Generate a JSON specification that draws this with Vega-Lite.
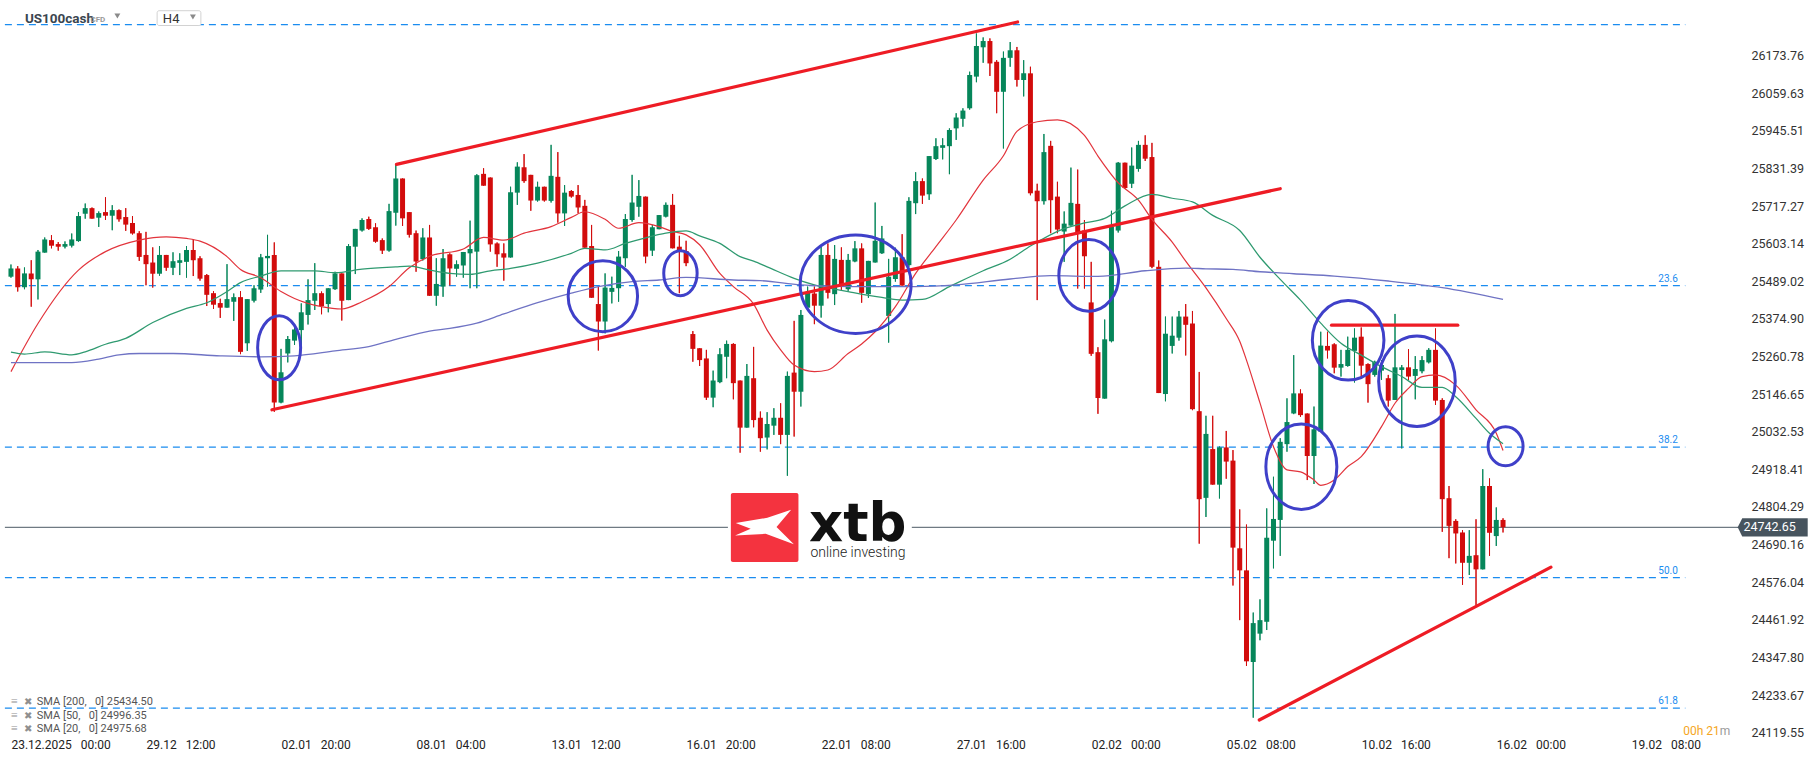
{
"$schema":"https://vega.github.io/schema/vega-lite/v6.json",
"width":1745,"height":735,"autosize":{"type":"none"},
"padding":{"left":0,"top":0,"right":70,"bottom":26},
"background":"white",
"config":{"view":{"stroke":null},"font":"Roboto"},
"resolve":{"axis":{"x":"independent","y":"independent"}},
"datasets":{
"candles":[
{"i":0,"o":25503,"h":25540,"l":25500,"c":25528},{"i":1,"o":25528,"h":25535,"l":25458,"c":25471},{"i":2,"o":25471,"h":25531,"l":25465,"c":25513},{"i":3,"o":25513,"h":25553,"l":25412,"c":25495},{"i":4,"o":25495,"h":25584,"l":25434,"c":25579},{"i":5,"o":25576,"h":25622,"l":25576,"c":25616},{"i":6,"o":25614,"h":25629,"l":25589,"c":25597},{"i":7,"o":25602,"h":25608,"l":25582,"c":25594},{"i":8,"o":25594,"h":25610,"l":25589,"c":25602},{"i":9,"o":25597,"h":25634,"l":25592,"c":25616},
{"i":10,"o":25611,"h":25699,"l":25609,"c":25687},{"i":11,"o":25694,"h":25725,"l":25679,"c":25711},{"i":12,"o":25711,"h":25713,"l":25679,"c":25679},{"i":13,"o":25682,"h":25701,"l":25654,"c":25696},{"i":14,"o":25699,"h":25744,"l":25675,"c":25688},{"i":15,"o":25688,"h":25720,"l":25644,"c":25705},{"i":16,"o":25705,"h":25707,"l":25670,"c":25677},{"i":17,"o":25684,"h":25711,"l":25642,"c":25661},{"i":18,"o":25666,"h":25687,"l":25631,"c":25634},{"i":19,"o":25635,"h":25641,"l":25551,"c":25563},
{"i":20,"o":25569,"h":25639,"l":25477,"c":25541},{"i":21,"o":25546,"h":25592,"l":25470,"c":25512},{"i":22,"o":25512,"h":25596,"l":25506,"c":25569},{"i":23,"o":25569,"h":25569,"l":25521,"c":25530},{"i":24,"o":25530,"h":25577,"l":25508,"c":25550},{"i":25,"o":25545,"h":25574,"l":25508,"c":25553},{"i":26,"o":25548,"h":25596,"l":25500,"c":25584},{"i":27,"o":25584,"h":25616,"l":25505,"c":25553},{"i":28,"o":25559,"h":25565,"l":25491,"c":25497},{"i":29,"o":25508,"h":25511,"l":25414,"c":25448},
{"i":30,"o":25453,"h":25459,"l":25405,"c":25418},{"i":31,"o":25423,"h":25436,"l":25378,"c":25409},{"i":32,"o":25409,"h":25541,"l":25409,"c":25435},{"i":33,"o":25427,"h":25452,"l":25369,"c":25441},{"i":34,"o":25441,"h":25459,"l":25268,"c":25275},{"i":35,"o":25301,"h":25435,"l":25278,"c":25435},{"i":36,"o":25430,"h":25477,"l":25425,"c":25468},{"i":37,"o":25464,"h":25572,"l":25454,"c":25562},{"i":38,"o":25559,"h":25630,"l":25473,"c":25566},{"i":39,"o":25569,"h":25607,"l":25093,"c":25121},
{"i":40,"o":25121,"h":25284,"l":25119,"c":25213},{"i":41,"o":25270,"h":25323,"l":25243,"c":25314},{"i":42,"o":25309,"h":25357,"l":25296,"c":25343},{"i":43,"o":25341,"h":25422,"l":25295,"c":25395},{"i":44,"o":25387,"h":25495,"l":25358,"c":25432},{"i":45,"o":25430,"h":25544,"l":25402,"c":25453},{"i":46,"o":25453,"h":25458,"l":25389,"c":25414},{"i":47,"o":25420,"h":25468,"l":25395,"c":25468},{"i":48,"o":25465,"h":25518,"l":25463,"c":25513},{"i":49,"o":25513,"h":25513,"l":25370,"c":25430},
{"i":50,"o":25432,"h":25602,"l":25432,"c":25596},{"i":51,"o":25594,"h":25648,"l":25511,"c":25648},{"i":52,"o":25643,"h":25680,"l":25640,"c":25675},{"i":53,"o":25678,"h":25685,"l":25645,"c":25648},{"i":54,"o":25653,"h":25665,"l":25606,"c":25609},{"i":55,"o":25614,"h":25619,"l":25572,"c":25582},{"i":56,"o":25582,"h":25724,"l":25579,"c":25702},{"i":57,"o":25697,"h":25844,"l":25658,"c":25801},{"i":58,"o":25801,"h":25801,"l":25657,"c":25680},{"i":59,"o":25699,"h":25699,"l":25622,"c":25630},
{"i":60,"o":25635,"h":25643,"l":25518,"c":25549},{"i":61,"o":25556,"h":25650,"l":25552,"c":25622},{"i":62,"o":25622,"h":25660,"l":25445,"c":25445},{"i":63,"o":25445,"h":25559,"l":25415,"c":25481},{"i":64,"o":25473,"h":25587,"l":25442,"c":25559},{"i":65,"o":25571,"h":25574,"l":25476,"c":25528},{"i":66,"o":25527,"h":25552,"l":25503,"c":25541},{"i":67,"o":25537,"h":25578,"l":25500,"c":25578},{"i":68,"o":25574,"h":25673,"l":25468,"c":25587},{"i":69,"o":25579,"h":25814,"l":25468,"c":25811},
{"i":70,"o":25815,"h":25832,"l":25779,"c":25779},{"i":71,"o":25804,"h":25804,"l":25579,"c":25601},{"i":72,"o":25604,"h":25607,"l":25533,"c":25571},{"i":73,"o":25574,"h":25604,"l":25491,"c":25561},{"i":74,"o":25561,"h":25776,"l":25561,"c":25759},{"i":75,"o":25758,"h":25850,"l":25721,"c":25837},{"i":76,"o":25835,"h":25875,"l":25788,"c":25793},{"i":77,"o":25812,"h":25812,"l":25703,"c":25734},{"i":78,"o":25734,"h":25791,"l":25731,"c":25776},{"i":79,"o":25776,"h":25776,"l":25731,"c":25734},
{"i":80,"o":25733,"h":25903,"l":25728,"c":25809},{"i":81,"o":25806,"h":25881,"l":25667,"c":25695},{"i":82,"o":25695,"h":25781,"l":25657,"c":25758},{"i":83,"o":25763,"h":25766,"l":25743,"c":25746},{"i":84,"o":25751,"h":25781,"l":25695,"c":25713},{"i":85,"o":25718,"h":25736,"l":25591,"c":25591},{"i":86,"o":25596,"h":25660,"l":25439,"c":25439},{"i":87,"o":25420,"h":25473,"l":25279,"c":25367},{"i":88,"o":25367,"h":25513,"l":25331,"c":25470},{"i":89,"o":25457,"h":25503,"l":25422,"c":25469},
{"i":90,"o":25468,"h":25581,"l":25427,"c":25564},{"i":91,"o":25559,"h":25693,"l":25533,"c":25678},{"i":92,"o":25675,"h":25812,"l":25670,"c":25728},{"i":93,"o":25715,"h":25796,"l":25685,"c":25748},{"i":94,"o":25746,"h":25746,"l":25544,"c":25564},{"i":95,"o":25582,"h":25660,"l":25566,"c":25653},{"i":96,"o":25647,"h":25690,"l":25647,"c":25690},{"i":97,"o":25685,"h":25728,"l":25683,"c":25721},{"i":98,"o":25721,"h":25754,"l":25589,"c":25589},{"i":99,"o":25594,"h":25627,"l":25453,"c":25582},
{"i":100,"o":25581,"h":25612,"l":25535,"c":25544},{"i":101,"o":25329,"h":25338,"l":25245,"c":25284},{"i":102,"o":25286,"h":25286,"l":25232,"c":25250},{"i":103,"o":25255,"h":25281,"l":25129,"c":25136},{"i":104,"o":25136,"h":25218,"l":25107,"c":25188},{"i":105,"o":25183,"h":25286,"l":25180,"c":25268},{"i":106,"o":25260,"h":25309,"l":25195,"c":25299},{"i":107,"o":25299,"h":25301,"l":25131,"c":25180},{"i":108,"o":25188,"h":25188,"l":24969,"c":25045},{"i":109,"o":25045,"h":25238,"l":25045,"c":25202},
{"i":110,"o":25195,"h":25290,"l":25046,"c":25068},{"i":111,"o":25075,"h":25094,"l":24972,"c":25013},{"i":112,"o":25015,"h":25092,"l":24979,"c":25056},{"i":113,"o":25051,"h":25104,"l":25023,"c":25075},{"i":114,"o":25075,"h":25119,"l":24995,"c":25023},{"i":115,"o":25023,"h":25215,"l":24899,"c":25202},{"i":116,"o":25212,"h":25369,"l":25018,"c":25154},{"i":117,"o":25154,"h":25402,"l":25109,"c":25387},{"i":118,"o":25409,"h":25473,"l":25409,"c":25455},{"i":119,"o":25452,"h":25473,"l":25359,"c":25415},
{"i":120,"o":25415,"h":25594,"l":25379,"c":25569},{"i":121,"o":25569,"h":25604,"l":25437,"c":25454},{"i":122,"o":25450,"h":25599,"l":25417,"c":25557},{"i":123,"o":25554,"h":25592,"l":25463,"c":25478},{"i":124,"o":25465,"h":25572,"l":25460,"c":25554},{"i":125,"o":25549,"h":25611,"l":25547,"c":25589},{"i":126,"o":25589,"h":25604,"l":25424,"c":25454},{"i":127,"o":25450,"h":25551,"l":25439,"c":25551},{"i":128,"o":25546,"h":25728,"l":25546,"c":25612},{"i":129,"o":25574,"h":25657,"l":25572,"c":25619},
{"i":130,"o":25384,"h":25557,"l":25303,"c":25503},{"i":131,"o":25496,"h":25591,"l":25488,"c":25562},{"i":132,"o":25562,"h":25632,"l":25476,"c":25476},{"i":133,"o":25538,"h":25744,"l":25533,"c":25733},{"i":134,"o":25726,"h":25820,"l":25693,"c":25793},{"i":135,"o":25793,"h":25801,"l":25724,"c":25749},{"i":136,"o":25753,"h":25869,"l":25736,"c":25869},{"i":137,"o":25860,"h":25923,"l":25857,"c":25899},{"i":138,"o":25894,"h":25923,"l":25859,"c":25902},{"i":139,"o":25899,"h":25953,"l":25814,"c":25948},
{"i":140,"o":25953,"h":25999,"l":25918,"c":25986},{"i":141,"o":25982,"h":26014,"l":25958,"c":26007},{"i":142,"o":26014,"h":26125,"l":26010,"c":26115},{"i":143,"o":26110,"h":26241,"l":26093,"c":26203},{"i":144,"o":26199,"h":26229,"l":26152,"c":26218},{"i":145,"o":26218,"h":26226,"l":26112,"c":26150},{"i":146,"o":26155,"h":26160,"l":25999,"c":26064},{"i":147,"o":26064,"h":26186,"l":25892,"c":26167},{"i":148,"o":26167,"h":26215,"l":26140,"c":26190},{"i":149,"o":26190,"h":26200,"l":26080,"c":26100},
{"i":150,"o":26100,"h":26160,"l":26050,"c":26120},{"i":151,"o":26120,"h":26140,"l":25750,"c":25756},{"i":152,"o":25764,"h":25785,"l":25432,"c":25732},{"i":153,"o":25732,"h":25936,"l":25722,"c":25881},{"i":154,"o":25900,"h":25915,"l":25635,"c":25735},{"i":155,"o":25746,"h":25791,"l":25635,"c":25646},{"i":156,"o":25640,"h":25701,"l":25548,"c":25664},{"i":157,"o":25658,"h":25834,"l":25658,"c":25727},{"i":158,"o":25724,"h":25828,"l":25467,"c":25635},{"i":159,"o":25643,"h":25675,"l":25467,"c":25565},
{"i":160,"o":25425,"h":25548,"l":25263,"c":25269},{"i":161,"o":25274,"h":25289,"l":25087,"c":25135},{"i":162,"o":25133,"h":25373,"l":25133,"c":25313},{"i":163,"o":25307,"h":25703,"l":25304,"c":25654},{"i":164,"o":25643,"h":25851,"l":25637,"c":25849},{"i":165,"o":25849,"h":25849,"l":25770,"c":25772},{"i":166,"o":25785,"h":25895,"l":25772,"c":25840},{"i":167,"o":25830,"h":25915,"l":25822,"c":25903},{"i":168,"o":25903,"h":25932,"l":25854,"c":25861},{"i":169,"o":25866,"h":25909,"l":25529,"c":25533},
{"i":170,"o":25533,"h":25552,"l":25150,"c":25150},{"i":171,"o":25147,"h":25382,"l":25125,"c":25330},{"i":172,"o":25293,"h":25382,"l":25270,"c":25324},{"i":173,"o":25318,"h":25399,"l":25309,"c":25382},{"i":174,"o":25382,"h":25420,"l":25264,"c":25357},{"i":175,"o":25361,"h":25399,"l":25098,"c":25101},{"i":176,"o":25095,"h":25214,"l":24693,"c":24828},{"i":177,"o":24832,"h":25081,"l":24774,"c":25026},{"i":178,"o":24980,"h":25081,"l":24872,"c":24872},{"i":179,"o":24872,"h":24988,"l":24830,"c":24985},
{"i":180,"o":24985,"h":25035,"l":24890,"c":24942},{"i":181,"o":24945,"h":24977,"l":24566,"c":24681},{"i":182,"o":24679,"h":24797,"l":24461,"c":24612},{"i":183,"o":24612,"h":24751,"l":24322,"c":24336},{"i":184,"o":24334,"h":24484,"l":24165,"c":24452},{"i":185,"o":24420,"h":24524,"l":24400,"c":24461},{"i":186,"o":24456,"h":24800,"l":24431,"c":24711},{"i":187,"o":24702,"h":24896,"l":24618,"c":24768},{"i":188,"o":24765,"h":25013,"l":24656,"c":25002},{"i":189,"o":24995,"h":25134,"l":24972,"c":25062},
{"i":190,"o":25088,"h":25265,"l":25086,"c":25149},{"i":191,"o":25149,"h":25161,"l":25078,"c":25083},{"i":192,"o":25088,"h":25088,"l":24886,"c":24959},{"i":193,"o":24959,"h":25109,"l":24874,"c":25040},{"i":194,"o":25033,"h":25336,"l":25033,"c":25294},{"i":195,"o":25293,"h":25336,"l":25255,"c":25279},{"i":196,"o":25298,"h":25301,"l":25210,"c":25227},{"i":197,"o":25227,"h":25281,"l":25200,"c":25238},{"i":198,"o":25232,"h":25321,"l":25230,"c":25281},{"i":199,"o":25278,"h":25346,"l":25182,"c":25318},
{"i":200,"o":25321,"h":25349,"l":25195,"c":25233},{"i":201,"o":25238,"h":25240,"l":25121,"c":25177},{"i":202,"o":25205,"h":25248,"l":25200,"c":25245},{"i":203,"o":25218,"h":25250,"l":25190,"c":25235},{"i":204,"o":25195,"h":25205,"l":25109,"c":25127},{"i":205,"o":25129,"h":25390,"l":25129,"c":25228},{"i":206,"o":25220,"h":25235,"l":24982,"c":25228},{"i":207,"o":25228,"h":25283,"l":25190,"c":25200},{"i":208,"o":25202,"h":25262,"l":25131,"c":25223},{"i":209,"o":25216,"h":25262,"l":25210,"c":25250},
{"i":210,"o":25243,"h":25286,"l":25240,"c":25281},{"i":211,"o":25281,"h":25346,"l":25114,"c":25127},{"i":212,"o":25129,"h":25134,"l":24729,"c":24828},{"i":213,"o":24831,"h":24868,"l":24649,"c":24747},{"i":214,"o":24762,"h":24767,"l":24633,"c":24724},{"i":215,"o":24727,"h":24734,"l":24568,"c":24635},{"i":216,"o":24635,"h":24734,"l":24598,"c":24656},{"i":217,"o":24658,"h":24767,"l":24507,"c":24615},{"i":218,"o":24615,"h":24919,"l":24615,"c":24868},{"i":219,"o":24868,"h":24891,"l":24656,"c":24726},
{"i":220,"o":24716,"h":24803,"l":24686,"c":24765},{"i":221,"o":24765,"h":24770,"l":24727,"c":24742.65}
],
"sma":[
{"s":"s20","i":0,"v":25215},{"s":"s20","i":4,"v":25361},{"s":"s20","i":10,"v":25523},{"s":"s20","i":14,"v":25579},{"s":"s20","i":19,"v":25614},{"s":"s20","i":23,"v":25624},{"s":"s20","i":26,"v":25619},{"s":"s20","i":28,"v":25611},{"s":"s20","i":32,"v":25564},{"s":"s20","i":34,"v":25525},{"s":"s20","i":37,"v":25500},{"s":"s20","i":40,"v":25458},{"s":"s20","i":42,"v":25437},{"s":"s20","i":46,"v":25412},{"s":"s20","i":49,"v":25405},{"s":"s20","i":52,"v":25427},{"s":"s20","i":56,"v":25473},{"s":"s20","i":59,"v":25530},{"s":"s20","i":62,"v":25565},{"s":"s20","i":67,"v":25587},{"s":"s20","i":70,"v":25622},{"s":"s20","i":73,"v":25614},{"s":"s20","i":76,"v":25635},{"s":"s20","i":80,"v":25655},{"s":"s20","i":83,"v":25683},{"s":"s20","i":85,"v":25700},{"s":"s20","i":88,"v":25677},{"s":"s20","i":90,"v":25650},{"s":"s20","i":93,"v":25667},{"s":"s20","i":96,"v":25655},{"s":"s20","i":98,"v":25640},{"s":"s20","i":100,"v":25630},{"s":"s20","i":102,"v":25600},{"s":"s20","i":105,"v":25513},{"s":"s20","i":107,"v":25473},{"s":"s20","i":110,"v":25420},{"s":"s20","i":112,"v":25341},{"s":"s20","i":114,"v":25281},{"s":"s20","i":116,"v":25235},{"s":"s20","i":119,"v":25215},{"s":"s20","i":121,"v":25220},{"s":"s20","i":124,"v":25270},{"s":"s20","i":126,"v":25299},{"s":"s20","i":128,"v":25336},{"s":"s20","i":131,"v":25412},{"s":"s20","i":134,"v":25513},{"s":"s20","i":137,"v":25594},{"s":"s20","i":140,"v":25675},{"s":"s20","i":144,"v":25796},{"s":"s20","i":147,"v":25870},{"s":"s20","i":149,"v":25944},{"s":"s20","i":152,"v":25973},{"s":"s20","i":155,"v":25979},{"s":"s20","i":159,"v":25932},{"s":"s20","i":161,"v":25869},{"s":"s20","i":164,"v":25788},{"s":"s20","i":167,"v":25735},{"s":"s20","i":169,"v":25677},{"s":"s20","i":172,"v":25608},{"s":"s20","i":174,"v":25550},{"s":"s20","i":177,"v":25469},{"s":"s20","i":180,"v":25376},{"s":"s20","i":182,"v":25307},{"s":"s20","i":183,"v":25250},{"s":"s20","i":185,"v":25120},{"s":"s20","i":187,"v":24987},{"s":"s20","i":189,"v":24917},{"s":"s20","i":191,"v":24911},{"s":"s20","i":193,"v":24886},{"s":"s20","i":194,"v":24870},{"s":"s20","i":196,"v":24886},{"s":"s20","i":198,"v":24927},{"s":"s20","i":200,"v":24957},{"s":"s20","i":203,"v":25048},{"s":"s20","i":205,"v":25119},{"s":"s20","i":207,"v":25164},{"s":"s20","i":209,"v":25200},{"s":"s20","i":211,"v":25205},{"s":"s20","i":214,"v":25174},{"s":"s20","i":217,"v":25099},{"s":"s20","i":220,"v":25028},{"s":"s20","i":221,"v":24975.68},
{"s":"s50","i":0,"v":25274},{"s":"s50","i":2,"v":25268},{"s":"s50","i":5,"v":25275},{"s":"s50","i":9,"v":25266},{"s":"s50","i":11,"v":25275},{"s":"s50","i":14,"v":25298},{"s":"s50","i":17,"v":25316},{"s":"s50","i":21,"v":25364},{"s":"s50","i":26,"v":25407},{"s":"s50","i":29,"v":25424},{"s":"s50","i":32,"v":25458},{"s":"s50","i":34,"v":25485},{"s":"s50","i":37,"v":25505},{"s":"s50","i":40,"v":25521},{"s":"s50","i":45,"v":25521},{"s":"s50","i":48,"v":25515},{"s":"s50","i":52,"v":25526},{"s":"s50","i":57,"v":25533},{"s":"s50","i":59,"v":25535},{"s":"s50","i":62,"v":25523},{"s":"s50","i":65,"v":25513},{"s":"s50","i":68,"v":25510},{"s":"s50","i":71,"v":25521},{"s":"s50","i":74,"v":25528},{"s":"s50","i":78,"v":25544},{"s":"s50","i":83,"v":25574},{"s":"s50","i":85,"v":25589},{"s":"s50","i":88,"v":25584},{"s":"s50","i":91,"v":25604},{"s":"s50","i":94,"v":25621},{"s":"s50","i":97,"v":25635},{"s":"s50","i":100,"v":25642},{"s":"s50","i":102,"v":25627},{"s":"s50","i":105,"v":25604},{"s":"s50","i":108,"v":25564},{"s":"s50","i":110,"v":25550},{"s":"s50","i":112,"v":25533},{"s":"s50","i":116,"v":25498},{"s":"s50","i":119,"v":25478},{"s":"s50","i":124,"v":25458},{"s":"s50","i":129,"v":25440},{"s":"s50","i":132,"v":25432},{"s":"s50","i":135,"v":25434},{"s":"s50","i":139,"v":25473},{"s":"s50","i":144,"v":25521},{"s":"s50","i":148,"v":25556},{"s":"s50","i":151,"v":25596},{"s":"s50","i":156,"v":25649},{"s":"s50","i":159,"v":25666},{"s":"s50","i":162,"v":25680},{"s":"s50","i":165,"v":25718},{"s":"s50","i":169,"v":25753},{"s":"s50","i":172,"v":25741},{"s":"s50","i":175,"v":25730},{"s":"s50","i":178,"v":25689},{"s":"s50","i":182,"v":25643},{"s":"s50","i":185,"v":25562},{"s":"s50","i":188,"v":25495},{"s":"s50","i":191,"v":25432},{"s":"s50","i":194,"v":25362},{"s":"s50","i":197,"v":25301},{"s":"s50","i":200,"v":25265},{"s":"s50","i":203,"v":25230},{"s":"s50","i":206,"v":25200},{"s":"s50","i":209,"v":25167},{"s":"s50","i":212,"v":25167},{"s":"s50","i":214,"v":25139},{"s":"s50","i":217,"v":25073},{"s":"s50","i":219,"v":25028},{"s":"s50","i":221,"v":24996.35},
{"s":"s200","i":0,"v":25242},{"s":"s200","i":9,"v":25242},{"s":"s200","i":13,"v":25253},{"s":"s200","i":16,"v":25266},{"s":"s200","i":19,"v":25270},{"s":"s200","i":24,"v":25270},{"s":"s200","i":31,"v":25263},{"s":"s200","i":37,"v":25260},{"s":"s200","i":42,"v":25263},{"s":"s200","i":48,"v":25278},{"s":"s200","i":53,"v":25291},{"s":"s200","i":57,"v":25313},{"s":"s200","i":62,"v":25338},{"s":"s200","i":65,"v":25346},{"s":"s200","i":69,"v":25362},{"s":"s200","i":73,"v":25390},{"s":"s200","i":78,"v":25424},{"s":"s200","i":83,"v":25453},{"s":"s200","i":87,"v":25473},{"s":"s200","i":92,"v":25488},{"s":"s200","i":96,"v":25493},{"s":"s200","i":100,"v":25501},{"s":"s200","i":107,"v":25493},{"s":"s200","i":111,"v":25491},{"s":"s200","i":117,"v":25478},{"s":"s200","i":124,"v":25473},{"s":"s200","i":134,"v":25473},{"s":"s200","i":140,"v":25478},{"s":"s200","i":148,"v":25496},{"s":"s200","i":154,"v":25506},{"s":"s200","i":161,"v":25504},{"s":"s200","i":168,"v":25521},{"s":"s200","i":174,"v":25529},{"s":"s200","i":177,"v":25527},{"s":"s200","i":181,"v":25525},{"s":"s200","i":185,"v":25518},{"s":"s200","i":190,"v":25512},{"s":"s200","i":196,"v":25505},{"s":"s200","i":204,"v":25490},{"s":"s200","i":212,"v":25470},{"s":"s200","i":221,"v":25434.5}
],
"fib":[{"p":26268,"lab":""},{"p":25476,"lab":"23.6"},{"p":24986,"lab":"38.2"},{"p":24590,"lab":"50.0"},{"p":24194,"lab":"61.8"}],
"trend":[{"id":"t1","i":57.1,"p":25843.7},{"id":"t1","i":149.1,"p":26275.8},{"id":"t2","i":38.66,"p":25099.2},{"id":"t2","i":188.0,"p":25770.0},{"id":"t3","i":195.6,"p":25356},{"id":"t3","i":214.3,"p":25356},{"id":"t4","i":184.9,"p":24158},{"id":"t4","i":228.1,"p":24621.6}],
"rings":[{"id":"a","i":39.72,"p":25287.3},{"id":"b","i":87.67,"p":25443.8},{"id":"c","i":99.16,"p":25513.6},{"id":"d","i":125.11,"p":25480.2},{"id":"e","i":159.65,"p":25506.9},{"id":"f","i":191.13,"p":24926.5},{"id":"g","i":198.06,"p":25310},{"id":"h","i":208.25,"p":25185.6},{"id":"k","i":221.38,"p":24988.6}],
"legend":[{"t":"SMA [200,\u2002 0] 25434.50","p":24203.6},{"t":"SMA [50,\u2002 0] 24996.35","p":24159.6},{"t":"SMA [20,\u2002 0] 24975.68","p":24121.6}]
},
"layer":[
{"data":{"name":"candles"},"mark":{"type":"rule","strokeWidth":1},
 "encoding":{
 "x":{"field":"i","type":"quantitative","title":null,"scale":{"domain":[-0.884,256.1],"nice":false,"zero":false},
  "axis":{"orient":"bottom","values":[0,20,40,60,80,100,120,140,160,180,200,220,240],"labelExpr":"['23.12.2025\u2002 00:00','29.12\u2002 12:00','02.01\u2002 20:00','08.01\u2002 04:00','13.01\u2002 12:00','16.01\u2002 20:00','22.01\u2002 08:00','27.01\u2002 16:00','02.02\u2002 00:00','05.02\u2002 08:00','10.02\u2002 16:00','16.02\u2002 00:00','19.02\u2002 08:00'][round(datum.value/20)]","ticks":false,"domain":false,"grid":false,"labelAlign":"left","labelBaseline":"top","labelPadding":4,"labelFontSize":12,"labelFont":"Roboto","labelColor":"#222","labelOverlap":false,"labelFlush":false,"title":null}},
 "y":{"field":"l","type":"quantitative","title":null,"scale":{"domain":[24112.5,26342.5],"nice":false,"zero":false},
  "axis":{"orient":"right","values":[24119.55,24233.67,24347.80,24461.92,24576.04,24690.16,24804.29,24918.41,25032.53,25146.65,25260.78,25374.90,25489.02,25603.14,25717.27,25831.39,25945.51,26059.63,26173.76],"format":".2f","ticks":false,"domain":false,"grid":false,"labelPadding":6,"labelFontSize":12.5,"labelFont":"Roboto","labelColor":"#333","labelOverlap":false,"labelFlush":false,"title":null}},
 "y2":{"field":"h"},
 "color":{"condition":{"test":"datum.c >= datum.o","value":"#06865a"},"value":"#d20c0c"}}},
{"data":{"name":"fib"},"mark":{"type":"rule","color":"#1a8cf0","strokeWidth":1.2,"strokeDash":[7,5]},
 "encoding":{"y":{"field":"p","type":"quantitative","scale":{"domain":[24112.5,26342.5],"nice":false,"zero":false},"axis":null},
 "x":{"datum":-0.9,"type":"quantitative","scale":{"domain":[-0.884,256.1],"nice":false,"zero":false},"axis":null},"x2":{"datum":248}}},
{"data":{"values":[{"p":24742.65}]},"mark":{"type":"rule","color":"#4c5964","strokeWidth":1},
 "encoding":{"y":{"field":"p","type":"quantitative","scale":{"domain":[24112.5,26342.5],"nice":false,"zero":false},"axis":null},
 "x":{"datum":-0.9,"type":"quantitative","scale":{"domain":[-0.884,256.1],"nice":false,"zero":false},"axis":null},"x2":{"datum":256}}},
{"data":{"values":[{}]},"mark":{"type":"rect","fill":"white"},
 "encoding":{"x":{"datum":106.19,"type":"quantitative","scale":{"domain":[-0.884,256.1],"nice":false,"zero":false},"axis":null},"x2":{"datum":133.43},
 "y":{"datum":24858.9,"type":"quantitative","scale":{"domain":[24112.5,26342.5],"nice":false,"zero":false},"axis":null},"y2":{"datum":24625.3}}},
{"data":{"name":"candles"},"mark":{"type":"rule","strokeWidth":1},
 "encoding":{
 "x":{"field":"i","type":"quantitative","scale":{"domain":[-0.884,256.1],"nice":false,"zero":false},"axis":null},
 "y":{"field":"l","type":"quantitative","scale":{"domain":[24112.5,26342.5],"nice":false,"zero":false},"axis":null},
 "y2":{"field":"h"},
 "color":{"condition":{"test":"datum.c >= datum.o","value":"#06865a"},"value":"#d20c0c"}}},
{"data":{"name":"candles"},"mark":{"type":"bar","width":5},
 "encoding":{
 "x":{"field":"i","type":"quantitative","scale":{"domain":[-0.884,256.1],"nice":false,"zero":false},"axis":null},
 "y":{"field":"o","type":"quantitative","scale":{"domain":[24112.5,26342.5],"nice":false,"zero":false},"axis":null},
 "y2":{"field":"c"},
 "color":{"condition":{"test":"datum.c >= datum.o","value":"#06865a"},"value":"#d20c0c"}}},
{"data":{"name":"sma"},"mark":{"type":"line","interpolate":"monotone"},
 "encoding":{
 "x":{"field":"i","type":"quantitative","scale":{"domain":[-0.884,256.1],"nice":false,"zero":false},"axis":null},
 "y":{"field":"v","type":"quantitative","scale":{"domain":[24112.5,26342.5],"nice":false,"zero":false},"axis":null},
 "color":{"field":"s","type":"nominal","scale":{"domain":["s20","s50","s200"],"range":["#e2343c","#2f9a70","#6f73c4"]},"legend":null},
 "strokeWidth":{"field":"s","type":"nominal","scale":{"domain":["s20","s50","s200"],"range":[1.2,1.3,1.8]},"legend":null}}},
{"data":{"values":[{}]},"mark":{"type":"rect","fill":"#f4333f","cornerRadius":2},
 "encoding":{"x":{"datum":106.63,"type":"quantitative","scale":{"domain":[-0.884,256.1],"nice":false,"zero":false},"axis":null},"x2":{"datum":116.64},
 "y":{"datum":24846.7,"type":"quantitative","scale":{"domain":[24112.5,26342.5],"nice":false,"zero":false},"axis":null},"y2":{"datum":24637.4}}},
{"data":{"values":[{}]},"mark":{"type":"point","filled":true,"fill":"white","opacity":1,"strokeWidth":0,"size":4624,"shape":"M-0.85,-0.12L0.08,-0.27L0.78,-0.51L0.35,0L0.86,0.51L0.03,0.2L-0.87,0.25L-0.41,0.05Z"},
 "encoding":{"x":{"datum":111.63,"type":"quantitative","scale":{"domain":[-0.884,256.1],"nice":false,"zero":false},"axis":null},
 "y":{"datum":24743.6,"type":"quantitative","scale":{"domain":[24112.5,26342.5],"nice":false,"zero":false},"axis":null}}},
{"data":{"values":[{}]},"mark":{"type":"text","text":"xtb","font":"DejaVu Sans","fontWeight":"bold","fontSize":53,"align":"left","baseline":"alphabetic","color":"#111"},
 "encoding":{"x":{"datum":118.2,"type":"quantitative","scale":{"domain":[-0.884,256.1],"nice":false,"zero":false},"axis":null},
 "y":{"datum":24702,"type":"quantitative","scale":{"domain":[24112.5,26342.5],"nice":false,"zero":false},"axis":null}}},
{"data":{"values":[{}]},"mark":{"type":"text","text":"online investing","font":"Roboto","fontWeight":300,"fontSize":14,"align":"left","baseline":"alphabetic","color":"#222"},
 "encoding":{"x":{"datum":118.41,"type":"quantitative","scale":{"domain":[-0.884,256.1],"nice":false,"zero":false},"axis":null},
 "y":{"datum":24652,"type":"quantitative","scale":{"domain":[24112.5,26342.5],"nice":false,"zero":false},"axis":null}}},
{"data":{"name":"trend"},"mark":{"type":"line","color":"#ee1c25","strokeWidth":3.2,"strokeCap":"round"},
 "encoding":{"x":{"field":"i","type":"quantitative","scale":{"domain":[-0.884,256.1],"nice":false,"zero":false},"axis":null},
 "y":{"field":"p","type":"quantitative","scale":{"domain":[24112.5,26342.5],"nice":false,"zero":false},"axis":null},
 "detail":{"field":"id","type":"nominal"}}},
{"data":{"name":"rings"},"mark":{"type":"point","filled":false,"stroke":"#3f40c9","strokeWidth":3,"opacity":1,"size":10000},
 "encoding":{"x":{"field":"i","type":"quantitative","scale":{"domain":[-0.884,256.1],"nice":false,"zero":false},"axis":null},
 "y":{"field":"p","type":"quantitative","scale":{"domain":[24112.5,26342.5],"nice":false,"zero":false},"axis":null},
 "shape":{"field":"id","type":"nominal","legend":null,"scale":{"domain":["a","b","c","d","e","f","g","h","k"],"range":[
 "M0.43,0C0.43,0.3535,0.2375,0.64,0,0.64C-0.2375,0.64,-0.43,0.3535,-0.43,0C-0.43,-0.3535,-0.2375,-0.64,0,-0.64C0.2375,-0.64,0.43,-0.3535,0.43,0Z",
 "M0.694,0C0.694,0.3921,0.3833,0.71,0,0.71C-0.3833,0.71,-0.694,0.3921,-0.694,0C-0.694,-0.3921,-0.3833,-0.71,0,-0.71C0.3833,-0.71,0.694,-0.3921,0.694,0Z",
 "M0.334,0C0.334,0.2485,0.1845,0.45,0,0.45C-0.1845,0.45,-0.334,0.2485,-0.334,0C-0.334,-0.2485,-0.1845,-0.45,0,-0.45C0.1845,-0.45,0.334,-0.2485,0.334,0Z",
 "M1.11,0C1.11,0.5435,0.6131,0.984,0,0.984C-0.6131,0.984,-1.11,0.5435,-1.11,0C-1.11,-0.5435,-0.6131,-0.984,0,-0.984C0.6131,-0.984,1.11,-0.5435,1.11,0Z",
 "M0.6,0C0.6,0.3954,0.3314,0.716,0,0.716C-0.3314,0.716,-0.6,0.3954,-0.6,0C-0.6,-0.3954,-0.3314,-0.716,0,-0.716C0.3314,-0.716,0.6,-0.3954,0.6,0Z",
 "M0.71,0C0.71,0.4717,0.3921,0.854,0,0.854C-0.3921,0.854,-0.71,0.4717,-0.71,0C-0.71,-0.4717,-0.3921,-0.854,0,-0.854C0.3921,-0.854,0.71,-0.4717,0.71,0Z",
 "M0.716,0C0.716,0.4385,0.3954,0.794,0,0.794C-0.3954,0.794,-0.716,0.4385,-0.716,0C-0.716,-0.4385,-0.3954,-0.794,0,-0.794C0.3954,-0.794,0.716,-0.4385,0.716,0Z",
 "M0.766,0C0.766,0.5004,0.4231,0.906,0,0.906C-0.4231,0.906,-0.766,0.5004,-0.766,0C-0.766,-0.5004,-0.4231,-0.906,0,-0.906C0.4231,-0.906,0.766,-0.5004,0.766,0Z",
 "M0.35,0C0.35,0.2154,0.1933,0.39,0,0.39C-0.1933,0.39,-0.35,0.2154,-0.35,0C-0.35,-0.2154,-0.1933,-0.39,0,-0.39C0.1933,-0.39,0.35,-0.2154,0.35,0Z"]}}}},
{"data":{"name":"fib"},"mark":{"type":"text","color":"#1a8cf0","fontSize":10,"align":"left","dy":-7},
 "encoding":{"x":{"datum":244,"type":"quantitative","scale":{"domain":[-0.884,256.1],"nice":false,"zero":false},"axis":null},
 "y":{"field":"p","type":"quantitative","scale":{"domain":[24112.5,26342.5],"nice":false,"zero":false},"axis":null},
 "text":{"field":"lab"}}},
{"data":{"values":[{}]},"mark":{"type":"rect","fill":"white","stroke":"#d2d2d2","strokeWidth":1,"cornerRadius":2},
 "encoding":{"x":{"datum":21.65,"type":"quantitative","scale":{"domain":[-0.884,256.1],"nice":false,"zero":false},"axis":null},"x2":{"datum":28.13},
 "y":{"datum":26310,"type":"quantitative","scale":{"domain":[24112.5,26342.5],"nice":false,"zero":false},"axis":null},"y2":{"datum":26265.1}}},
{"data":{"values":[{"t":"US100cash"}]},"mark":{"type":"text","fontSize":13.5,"fontWeight":"bold","color":"#3b4650","align":"left","baseline":"alphabetic"},
 "encoding":{"x":{"datum":2.06,"type":"quantitative","scale":{"domain":[-0.884,256.1],"nice":false,"zero":false},"axis":null},
 "y":{"datum":26273,"type":"quantitative","scale":{"domain":[24112.5,26342.5],"nice":false,"zero":false},"axis":null},"text":{"field":"t"}}},
{"data":{"values":[{"t":"CFD"}]},"mark":{"type":"text","fontSize":8,"fontWeight":"bold","color":"#9a9a9a","align":"left","baseline":"alphabetic"},
 "encoding":{"x":{"datum":11.78,"type":"quantitative","scale":{"domain":[-0.884,256.1],"nice":false,"zero":false},"axis":null},
 "y":{"datum":26276,"type":"quantitative","scale":{"domain":[24112.5,26342.5],"nice":false,"zero":false},"axis":null},"text":{"field":"t"}}},
{"data":{"values":[{"t":"H4"}]},"mark":{"type":"text","fontSize":13,"color":"#333","align":"left","baseline":"alphabetic"},
 "encoding":{"x":{"datum":22.5,"type":"quantitative","scale":{"domain":[-0.884,256.1],"nice":false,"zero":false},"axis":null},
 "y":{"datum":26273,"type":"quantitative","scale":{"domain":[24112.5,26342.5],"nice":false,"zero":false},"axis":null},"text":{"field":"t"}}},
{"data":{"values":[{"i":15.76,"p":26294},{"i":26.95,"p":26291}]},"mark":{"type":"point","shape":"triangle-down","filled":true,"color":"#8a8a8a","size":35,"opacity":1},
 "encoding":{"x":{"field":"i","type":"quantitative","scale":{"domain":[-0.884,256.1],"nice":false,"zero":false},"axis":null},
 "y":{"field":"p","type":"quantitative","scale":{"domain":[24112.5,26342.5],"nice":false,"zero":false},"axis":null}}},
{"data":{"name":"legend"},"mark":{"type":"text","fontSize":11,"color":"#555","align":"left","baseline":"alphabetic"},
 "encoding":{"x":{"datum":3.83,"type":"quantitative","scale":{"domain":[-0.884,256.1],"nice":false,"zero":false},"axis":null},
 "y":{"field":"p","type":"quantitative","scale":{"domain":[24112.5,26342.5],"nice":false,"zero":false},"axis":null},"text":{"field":"t"}}},
{"data":{"name":"legend"},"mark":{"type":"text","fontSize":12,"color":"#8f8f8f","align":"left","baseline":"alphabetic","text":"\u2261"},
 "encoding":{"x":{"datum":0.0,"type":"quantitative","scale":{"domain":[-0.884,256.1],"nice":false,"zero":false},"axis":null},
 "y":{"field":"p","type":"quantitative","scale":{"domain":[24112.5,26342.5],"nice":false,"zero":false},"axis":null}}},
{"data":{"name":"legend"},"mark":{"type":"text","fontSize":10,"color":"#8f8f8f","align":"left","baseline":"alphabetic","text":"\u2716"},
 "encoding":{"x":{"datum":2.0,"type":"quantitative","scale":{"domain":[-0.884,256.1],"nice":false,"zero":false},"axis":null},
 "y":{"field":"p","type":"quantitative","scale":{"domain":[24112.5,26342.5],"nice":false,"zero":false},"axis":null}}},
{"data":{"values":[{"t":"00h 21"}]},"mark":{"type":"text","fontSize":12,"color":"#f5a623","align":"left","baseline":"alphabetic"},
 "encoding":{"x":{"datum":247.7,"type":"quantitative","scale":{"domain":[-0.884,256.1],"nice":false,"zero":false},"axis":null},
 "y":{"datum":24111,"type":"quantitative","scale":{"domain":[24112.5,26342.5],"nice":false,"zero":false},"axis":null},"text":{"field":"t"}}},
{"data":{"values":[{"t":"m"}]},"mark":{"type":"text","fontSize":12,"color":"#9a9a9a","align":"left","baseline":"alphabetic"},
 "encoding":{"x":{"datum":253.1,"type":"quantitative","scale":{"domain":[-0.884,256.1],"nice":false,"zero":false},"axis":null},
 "y":{"datum":24111,"type":"quantitative","scale":{"domain":[24112.5,26342.5],"nice":false,"zero":false},"axis":null},"text":{"field":"t"}}},
{"data":{"values":[{"p":24742.65}]},"mark":{"type":"point","filled":true,"fill":"#47545e","strokeWidth":0,"opacity":1,"size":4900,"shape":"M-0.9,-0.26L0.97,-0.26L0.97,0.26L-0.9,0.26L-1.03,0Z"},
 "encoding":{"x":{"datum":261.1,"type":"quantitative","scale":{"domain":[-0.884,256.1],"nice":false,"zero":false},"axis":null},
 "y":{"field":"p","type":"quantitative","scale":{"domain":[24112.5,26342.5],"nice":false,"zero":false},"axis":null}}},
{"data":{"values":[{"p":24742.65}]},"mark":{"type":"text","fontSize":12.5,"color":"white","align":"left","baseline":"middle"},
 "encoding":{"x":{"datum":256.6,"type":"quantitative","scale":{"domain":[-0.884,256.1],"nice":false,"zero":false},"axis":null},
 "y":{"field":"p","type":"quantitative","scale":{"domain":[24112.5,26342.5],"nice":false,"zero":false},"axis":null},
 "text":{"field":"p","format":".2f"}}}
]
}
